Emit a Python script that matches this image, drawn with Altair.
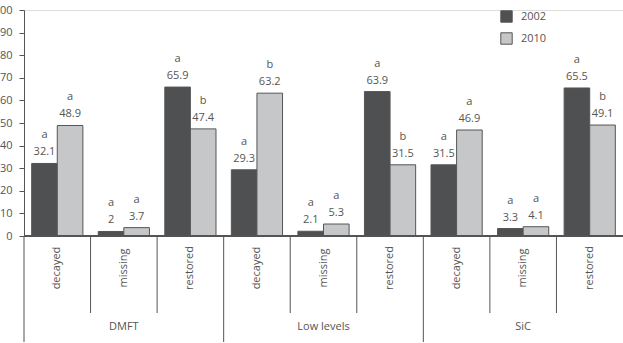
import altair as alt
import pandas as pd

groups = ["DMFT", "DMFT", "DMFT", "Low levels", "Low levels", "Low levels", "SiC", "SiC", "SiC"]
subs = ["decayed", "missing", "restored"] * 3
years = ["2002", "2010"]
v2002 = [32.1, 2, 65.9, 29.3, 2.1, 63.9, 31.5, 3.3, 65.5]
v2010 = [48.9, 3.7, 47.4, 63.2, 5.3, 31.5, 46.9, 4.1, 49.1]
t2002 = ["32.1", "2", "65.9", "29.3", "2.1", "63.9", "31.5", "3.3", "65.5"]
t2010 = ["48.9", "3.7", "47.4", "63.2", "5.3", "31.5", "46.9", "4.1", "49.1"]
l2002 = ["a", "a", "a", "a", "a", "a", "a", "a", "a"]
l2010 = ["a", "a", "b", "b", "a", "b", "a", "a", "b"]
yticks = [0, 10, 20, 30, 40, 50, 60, 70, 80, 90, 100]

keys = [f"{g}|{s}" for g, s in zip(groups, subs)]

rows = []
for k, g, s, a, b, ta, tb, la, lb in zip(keys, groups, subs, v2002, v2010, t2002, t2010, l2002, l2010):
    rows.append(dict(key=k, group=g, sub=s, year="2002", value=a, txt=ta, sig=la))
    rows.append(dict(key=k, group=g, sub=s, year="2010", value=b, txt=tb, sig=lb))
bars = pd.DataFrame(rows)

cats = pd.DataFrame(dict(key=keys, group=groups, sub=subs,
                         first=[i % 3 == 0 for i in range(9)],
                         mid=[i % 3 == 1 for i in range(9)]))

FONT = "Open Sans"
GRAY = "#555555"
W, H = 599, 226

xk = alt.X("key:N", sort=keys, axis=None,
           scale=alt.Scale(paddingInner=0, paddingOuter=0))
xoff = alt.XOffset("year:N", sort=years, scale=alt.Scale(paddingInner=0, paddingOuter=0.3))
yv = alt.Y("value:Q", scale=alt.Scale(domain=[0, 100], nice=False),
           axis=alt.Axis(values=yticks, tickCount=11, title=None, grid=False,
                         labelOverlap=False, labelFlush=False,
                         tickSize=5, labelPadding=7, domainColor=GRAY, tickColor=GRAY,
                         labelColor=GRAY, labelFontSize=11, labelFont=FONT))

bar = alt.Chart(bars).mark_bar(stroke=GRAY, strokeWidth=1).encode(
    x=xk, xOffset=xoff, y=yv,
    color=alt.Color("year:N", sort=years,
                    scale=alt.Scale(domain=years, range=["#4e5052", "#c6c7c9"]),
                    legend=alt.Legend(title=None, orient="none", legendX=476, legendY=0,
                                      symbolType="square", symbolSize=130,
                                      symbolStrokeColor=GRAY, symbolStrokeWidth=1,
                                      labelFontSize=11, labelFont=FONT, labelColor=GRAY,
                                      rowPadding=5, labelOffset=8)),
)

val_txt = alt.Chart(bars).mark_text(dy=-11, fontSize=11, font=FONT, color=GRAY).encode(
    x=xk, xOffset=xoff, y=yv, text="txt:N")
sig_txt = alt.Chart(bars).mark_text(dy=-28, fontSize=11, font=FONT, color=GRAY).encode(
    x=xk, xOffset=xoff, y=yv, text="sig:N")

baseline = alt.Chart(cats).mark_rule(color=GRAY, strokeWidth=1).encode(
    x=alt.value(0), x2=alt.value(W + 2), y=alt.value(H))

xedge = alt.X("key:N", sort=keys, axis=None, bandPosition=0)
sep_sub = alt.Chart(cats).transform_filter("!datum.first").mark_rule(color=GRAY, strokeWidth=1).encode(
    x=xedge, y=alt.value(H), y2=alt.value(H + 77))
sep_grp = alt.Chart(cats).transform_filter("datum.first").mark_rule(color=GRAY, strokeWidth=1).encode(
    x=xedge, y=alt.value(H), y2=alt.value(H + 106))

sub_txt = alt.Chart(cats).mark_text(angle=270, fontSize=11, font=FONT, color=GRAY,
                                    align="center", baseline="middle").encode(
    x=alt.X("key:N", sort=keys, axis=None, bandPosition=0.5), y=alt.value(H + 32), text="sub:N")
grp_txt = alt.Chart(cats).transform_filter("datum.mid").mark_text(
    fontSize=11, font=FONT, color=GRAY, align="center", baseline="middle").encode(
    x=alt.X("key:N", sort=keys, axis=None, bandPosition=0.5), y=alt.value(H + 91), text="group:N")

chart = alt.layer(bar, val_txt, sig_txt, baseline, sep_sub, sep_grp, sub_txt, grp_txt).properties(
    width=W, height=H, padding={"left": 24, "top": 10, "right": 0, "bottom": 107},
    autosize=alt.AutoSizeParams(type="none"),
).configure_view(stroke=None).configure(background="white")

chart.save("out.html", embed_options={"renderer": "svg", "actions": False})
